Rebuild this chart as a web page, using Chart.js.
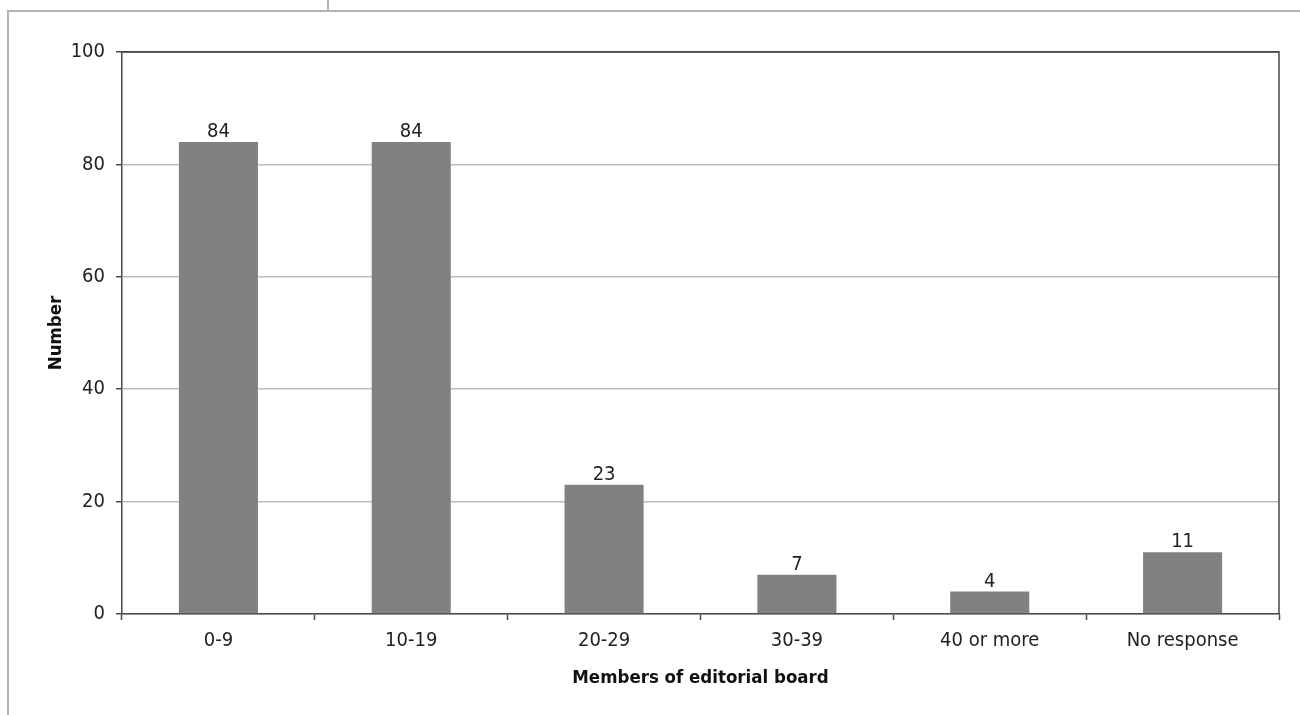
<!DOCTYPE html>
<html>
<head>
<meta charset="utf-8">
<script src="https://cdn.jsdelivr.net/npm/chart.js@4/dist/chart.umd.min.js"></script>
<style>
  html, body { margin: 0; padding: 0; background: #fff; }
  #wrap { position: relative; width: 1300px; height: 715px; }
</style>
</head>
<body>
<div id="wrap"><canvas id="boardChart"></canvas></div>
<script>
// ---------- DATA ----------
const categories = ["0-9", "10-19", "20-29", "30-39", "40 or more", "No response"];
const counts = [84, 84, 23, 7, 4, 11];
const yTicks = [0, 20, 40, 60, 80, 100];

const FONT = "'Liberation Sans Narrow', 'DejaVu Sans Condensed', 'Arial Narrow', sans-serif";
const AXIS = "#4a4a4a";
const GRID = "#bdbdbd";

// page frame lines around the figure
const frameLines = {
  id: "frameLines",
  beforeDraw(chart) {
    const c = chart.ctx;
    c.save();
    c.strokeStyle = "#b4b4b4";
    c.lineWidth = 2;
    c.beginPath();
    c.moveTo(8, 715); c.lineTo(8, 11); c.lineTo(1300, 11);
    c.moveTo(328, 0); c.lineTo(328, 11);
    c.stroke();
    c.restore();
  }
};

// top and right edge of the plot
const plotBorder = {
  id: "plotBorder",
  afterDraw(chart) {
    const a = chart.chartArea;
    const c = chart.ctx;
    c.save();
    c.strokeStyle = AXIS;
    c.lineWidth = 1.5;
    c.beginPath();
    c.moveTo(a.left, a.top); c.lineTo(a.right, a.top); c.lineTo(a.right, a.bottom);
    c.stroke();
    c.restore();
  }
};

// value above each bar
const barValues = {
  id: "barValues",
  afterDatasetsDraw(chart) {
    const c = chart.ctx;
    const meta = chart.getDatasetMeta(0);
    c.save();
    c.fillStyle = "#222";
    c.font = "20px " + FONT;
    c.textAlign = "center";
    c.textBaseline = "alphabetic";
    meta.data.forEach((bar, i) => {
      c.fillText(String(counts[i]), bar.x, bar.y - 5);
    });
    c.restore();
  }
};

new Chart(document.getElementById("boardChart"), {
  type: "bar",
  data: {
    labels: categories,
    datasets: [{
      data: counts,
      backgroundColor: "#808183",
      borderWidth: 0,
      barPercentage: 0.41,
      categoryPercentage: 1
    }]
  },
  options: {
    responsive: true,
    maintainAspectRatio: false,
    animation: false,
    layout: { padding: { top: 52, right: 21, left: 0, bottom: 0 } },
    plugins: {
      legend: { display: false },
      tooltip: { enabled: false }
    },
    scales: {
      x: {
        grid: {
          drawOnChartArea: false,
          drawTicks: true,
          tickLength: 6,
          tickColor: AXIS,
          tickWidth: 1.5
        },
        border: { color: AXIS, width: 1.5 },
        ticks: {
          color: "#222",
          padding: 9,
          font: { family: FONT, size: 20 }
        },
        title: {
          display: true,
          text: "Members of editorial board",
          color: "#111",
          font: { family: FONT, size: 18.5, weight: "bold" },
          padding: { top: 0, bottom: 26 }
        },
        afterFit: (scale) => { scale.height = 101; }
      },
      y: {
        min: 0,
        max: 100,
        afterBuildTicks: (scale) => { scale.ticks = yTicks.map(v => ({ value: v })); },
        grid: {
          color: (ctx) => (ctx.tick && ctx.tick.value === 100) ? AXIS : GRID,
          lineWidth: 1.5,
          tickLength: 6,
          tickColor: AXIS,
          tickWidth: 1.5
        },
        border: { color: AXIS, width: 1.5 },
        ticks: {
          color: "#222",
          padding: 11,
          font: { family: FONT, size: 20 }
        },
        title: {
          display: true,
          text: "Number",
          color: "#111",
          font: { family: FONT, size: 18.5, weight: "bold" },
          padding: { top: 45, bottom: 0 }
        },
        afterFit: (scale) => { scale.width = 122; }
      }
    }
  },
  plugins: [frameLines, plotBorder, barValues]
});
</script>
</body>
</html>
